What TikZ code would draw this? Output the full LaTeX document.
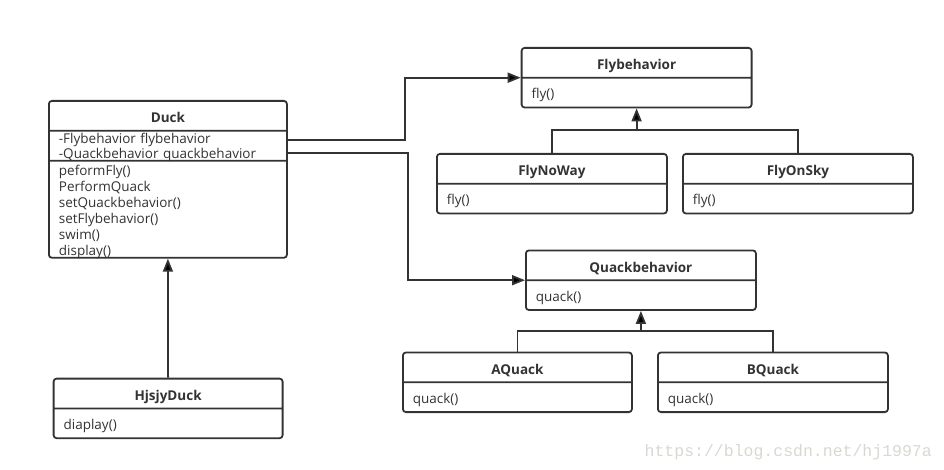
\documentclass[tikz,border=0pt]{standalone}
\usepackage{fontspec}
\setmainfont{Open Sans}
\newfontfamily\markfont{Liberation Mono}
\usepackage{xcolor}
\usepackage{tikz}
\usetikzlibrary{shapes.multipart, arrows.meta, positioning}
\setlength{\parindent}{0pt}
\definecolor{umlgray}{HTML}{333333}
\definecolor{markgray}{HTML}{D8D8D2}
\newcommand{\titlestrut}{\rule[-7pt]{0pt}{28pt}}
\newcommand{\onestrut}{\rule[-8pt]{0pt}{28pt}}
\newcommand{\firststrut}[1]{\rule{0pt}{#1}}
\newcommand{\umltitle}[1]{\hfill\textbf{#1}\hfill\titlestrut}

\begin{document}
\begin{tikzpicture}[x=1pt, y=-1pt,
        umlclass/.style={rectangle split, rectangle split parts=2, draw=umlgray, text=umlgray, line width=1.8pt,
            rounded corners=3pt, inner xsep=10pt, inner ysep=0pt, text width=210pt, align=left,
            anchor=north west, font=\fontsize{13.5}{16}\selectfont},
        line/.style={draw=umlgray, line width=1.8pt},
        arrow/.style={line, -{Triangle[length=13pt, width=10pt]}}
    ]
        \useasboundingbox (0,0) rectangle (944,470);
        \node[umlclass, rectangle split parts=3, text width=218pt] (duck) at (48,100) {\umltitle{Duck}
            \nodepart{second}\firststrut{12pt}-Flybehavior flybehavior\\[-1pt]-Quackbehavior quackbehavior\vadjust{\kern-2pt}
            \nodepart{third}\firststrut{14pt}peformFly()\\PerformQuack\\setQuackbehavior()\\setFlybehavior()\\swim()\\display()\vadjust{\kern-2pt}};
        \node[umlclass, text width=209pt] (hjsjy) at (52.7,377.7) {\umltitle{HjsjyDuck}
            \nodepart{second}diaplay()\onestrut};
        \node[umlclass] (fly) at (520.7,47) {\umltitle{Flybehavior}
            \nodepart{second}fly()\onestrut};
        \node[umlclass] (flynoway) at (436,153) {\umltitle{FlyNoWay}
            \nodepart{second}fly()\onestrut};
        \node[umlclass] (flyonsky) at (682,153) {\umltitle{FlyOnSky}
            \nodepart{second}fly()\onestrut};
        \node[umlclass] (quack) at (525,249.5) {\umltitle{Quackbehavior}
            \nodepart{second}quack()\onestrut};
        \node[umlclass, text width=209pt] (aquack) at (402,351.6) {\umltitle{AQuack}
            \nodepart{second}quack()\onestrut};
        \node[umlclass] (bquack) at (657,351.6) {\umltitle{BQuack}
            \nodepart{second}quack()\onestrut};

        \draw[arrow] ([yshift=-9pt]duck.text split east) -- ++(117,0) |- (fly.text split west);
        \draw[arrow] ([yshift=-22pt]duck.text split east) -- ++(120,0) |- (quack.text split west);
        \draw[arrow] (hjsjy.north) -- (duck.south);

        \coordinate (flyjoin) at ([yshift=-22pt]fly.south);
        \draw[line] (flynoway.north) |- (flyjoin) -| (flyonsky.north);
        \draw[arrow] (flyjoin) -- (fly.south);
        \coordinate (quackjoin) at ([yshift=-20pt]quack.south);
        \draw[line] (aquack.north) |- (quackjoin) -| (bquack.north);
        \draw[arrow] (quackjoin) -- (quack.south);

        \node[font=\markfont\fontsize{16.5}{18}\selectfont, text=markgray, anchor=base east, inner sep=0pt] (mark) at (932,456.5) {https://blog.csdn.net/hj1997a};
    \end{tikzpicture}
\end{document}
